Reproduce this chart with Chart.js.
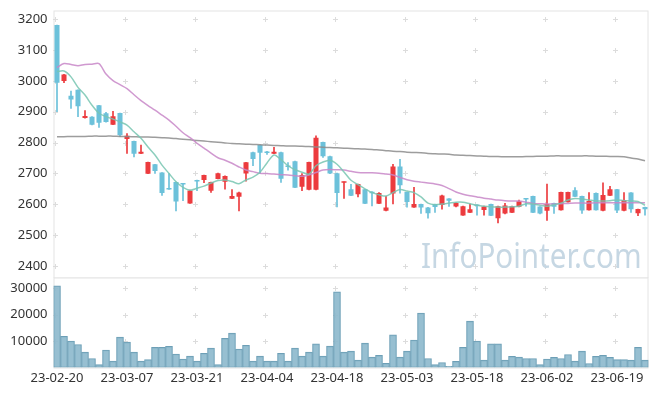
<!DOCTYPE html>
<html>
<head>
<meta charset="utf-8">
<script src="https://cdn.jsdelivr.net/npm/chart.js@4.4.0/dist/chart.umd.min.js"></script>
<style>
  body { margin: 0; background: #fff; }
  #wrap { position: relative; width: 657px; height: 396px; overflow: hidden; }
  #price { position: absolute; left: 0; top: 0; }
  #volume { position: absolute; left: 0; top: 270px; }
  #mark { position: absolute; left: 421px; top: 232px; font: 34px 'Noto Sans', sans-serif; color: #c6d7e3; white-space: nowrap; pointer-events: none; transform: scaleX(0.87); transform-origin: 0 0; }
</style>
</head>
<body>
<div id="wrap">
  <canvas id="price" width="657" height="278"></canvas>
  <canvas id="volume" width="657" height="126"></canvas>
  <div id="mark">InfoPointer.com</div>
</div>
<script>
// trading days
const dates = [
  '23-02-20','23-02-21','23-02-22','23-02-23','23-02-24','23-02-27','23-02-28',
  '23-03-02','23-03-03','23-03-06','23-03-07','23-03-08','23-03-09','23-03-10','23-03-13','23-03-14','23-03-15','23-03-16','23-03-17','23-03-20','23-03-21','23-03-22','23-03-23','23-03-24','23-03-27','23-03-28','23-03-29','23-03-30','23-03-31',
  '23-04-03','23-04-04','23-04-05','23-04-06','23-04-07','23-04-10','23-04-11','23-04-12','23-04-13','23-04-14','23-04-17','23-04-18','23-04-19','23-04-20','23-04-21','23-04-24','23-04-25','23-04-26','23-04-27','23-04-28',
  '23-05-02','23-05-03','23-05-04','23-05-08','23-05-09','23-05-10','23-05-11','23-05-12','23-05-15','23-05-16','23-05-17','23-05-18','23-05-19','23-05-22','23-05-23','23-05-24','23-05-25','23-05-26','23-05-30','23-05-31',
  '23-06-01','23-06-02','23-06-05','23-06-07','23-06-08','23-06-09','23-06-12','23-06-13','23-06-14','23-06-15','23-06-16','23-06-19','23-06-20','23-06-21','23-06-22','23-06-23'
];

const opens = [
  3181,3000,2952,2971,2880,2884,2921,2895,2858,2896,
  2812,2805,2764,2699,2730,2703,2650,2672,2666,2603,
  2676,2679,2644,2682,2673,2618,2625,2700,2769,2792,
  2768,2764,2769,2723,2740,2657,2647,2647,2802,2756,
  2701,2670,2649,2633,2649,2641,2602,2579,2635,2723,
  2640,2590,2601,2590,2601,2598,2619,2593,2564,2573,
  2598,2582,2601,2555,2570,2573,2592,2619,2627,2593,
  2579,2604,2581,2607,2646,2627,2581,2637,2579,2628,
  2649,2579,2638,2571,2591
];
const highs = [
  3181,3021,2967,2971,2904,2884,2921,2898,2901,2896,
  2829,2805,2792,2737,2730,2703,2700,2672,2666,2646,
  2679,2695,2672,2701,2692,2648,2640,2736,2769,2792,
  2772,2785,2769,2735,2740,2700,2737,2822,2802,2756,
  2701,2673,2665,2666,2649,2641,2638,2626,2730,2746,
  2640,2655,2601,2590,2601,2630,2619,2605,2594,2601,
  2598,2594,2601,2594,2603,2594,2614,2619,2627,2593,
  2666,2604,2640,2640,2654,2627,2638,2637,2670,2658,
  2649,2638,2638,2585,2591
];
const lows = [
  2900,2994,2911,2884,2879,2857,2849,2866,2858,2819,
  2765,2754,2764,2699,2700,2629,2648,2579,2612,2603,
  2644,2670,2639,2682,2649,2618,2579,2675,2725,2700,
  2762,2764,2671,2711,2654,2644,2647,2647,2752,2699,
  2592,2619,2628,2624,2602,2595,2602,2579,2601,2636,
  2591,2590,2571,2555,2574,2584,2593,2592,2564,2573,
  2565,2565,2563,2540,2569,2573,2592,2594,2573,2569,
  2548,2571,2581,2607,2625,2571,2581,2581,2579,2628,
  2573,2579,2574,2563,2565
];
const closes = [
  2994,3021,2940,2918,2886,2858,2864,2867,2885,2824,
  2822,2764,2770,2737,2708,2637,2648,2609,2664,2645,
  2674,2695,2672,2701,2692,2627,2638,2736,2747,2767,
  2766,2770,2683,2721,2654,2695,2737,2816,2756,2700,
  2637,2673,2628,2666,2602,2636,2637,2590,2723,2662,
  2608,2601,2590,2571,2591,2629,2612,2604,2594,2584,
  2595,2593,2563,2594,2596,2594,2610,2616,2573,2570,
  2601,2592,2640,2640,2625,2580,2611,2581,2630,2649,
  2580,2614,2584,2585,2584
];

// moving averages
const ma5 = [
  3030,3032,3013,2979,2954,2921,2895,2884,2876,2867,
  2857,2835,2814,2786,2760,2727,2700,2673,2655,2646,
  2652,2659,2669,2677,2679,2674,2667,2679,2688,2704,
  2734,2760,2745,2725,2712,2704,2698,2725,2737,2743,
  2730,2705,2678,2664,2650,2638,2631,2627,2638,2648,
  2643,2638,2624,2604,2599,2601,2604,2607,2607,2602,
  2597,2594,2592,2591,2591,2592,2594,2602,2601,2597,
  2594,2599,2604,2614,2619,2617,2614,2611,2611,2612,
  2614,2612,2611,2609,2597
];
const ma20 = [
  3043,3056,3053,3049,3053,3054,3056,3022,3001,2988,
  2975,2955,2936,2920,2905,2889,2873,2853,2832,2816,
  2798,2782,2766,2751,2743,2733,2721,2711,2706,2701,
  2700,2698,2696,2695,2693,2691,2695,2703,2711,2713,
  2712,2711,2707,2703,2702,2702,2701,2698,2695,2687,
  2680,2675,2672,2669,2666,2661,2651,2640,2633,2628,
  2624,2620,2617,2614,2612,2611,2611,2607,2603,2602,
  2601,2601,2602,2603,2604,2604,2604,2605,2605,2605,
  2605,2605,2605,2605,2605
];
const ma120 = [
  2819,2819,2820,2820,2820,2821,2821,2821,2821,2820,
  2820,2819,2818,2818,2817,2816,2815,2813,2811,2809,
  2807,2805,2803,2801,2799,2797,2796,2795,2794,2793,
  2792,2791,2790,2789,2789,2788,2787,2786,2785,2784,
  2783,2782,2781,2780,2779,2778,2776,2774,2772,2771,
  2769,2768,2767,2765,2764,2763,2762,2760,2759,2758,
  2757,2756,2755,2755,2754,2754,2754,2755,2755,2756,
  2756,2757,2757,2757,2757,2757,2757,2756,2756,2755,
  2755,2754,2750,2747,2741
];

const volumes = [
  30900,11800,10000,8700,5800,3400,1100,6600,2400,11500,
  9600,5800,2400,3000,7600,7600,8000,5100,3200,4300,
  2400,5400,7300,1100,11000,13000,7000,8400,2400,4300,
  2400,2400,5400,2400,7300,4300,5800,8900,4300,8100,
  28600,5800,6200,2800,9200,3900,4600,1600,12300,3900,
  6200,10400,20600,3400,1100,1900,400,2300,7600,17500,
  10000,2800,8900,8900,2800,4200,3900,3400,3400,1100,
  3200,3800,3400,4900,2400,6200,1500,4200,4600,3800,
  3000,3000,2800,7600,2800
];

// axis tick labels
const priceTicks = [2400, 2500, 2600, 2700, 2800, 2900, 3000, 3100, 3200];
const volumeTicks = [10000, 20000, 30000];

const UP = '#ec3b3e';
const DOWN = '#6cc1da';
const candleColors = opens.map((o, i) => closes[i] >= o ? UP : DOWN);
const bodies = opens.map((o, i) => [Math.min(o, closes[i]), Math.max(o, closes[i])]);
const wicks = lows.map((l, i) => [l, highs[i]]);

const FONT = { family: "'Noto Sans', sans-serif", size: 13 };

// small "+" marks where grid lines would cross, plus a thin frame
const crossGrid = {
  id: 'crossGrid',
  beforeDatasetsDraw(chart) {
    const { ctx, chartArea: a, scales: { x, y } } = chart;
    ctx.save();
    ctx.strokeStyle = '#e4e4e4';
    ctx.lineWidth = 1;
    ctx.strokeRect(a.left + 0.5, a.top + 0.5, a.right - a.left - 1, a.bottom - a.top);
    ctx.strokeStyle = '#dcdcdc';
    y.ticks.forEach(t => {
      const py = Math.round(y.getPixelForValue(t.value)) + 0.5;
      for (let i = 0; i < dates.length; i += 10) {
        const px = Math.round(x.getPixelForValue(i)) - 1.5;
        ctx.beginPath();
        ctx.moveTo(px - 2.5, py); ctx.lineTo(px + 2.5, py);
        ctx.moveTo(px, py - 2.5); ctx.lineTo(px, py + 2.5);
        ctx.stroke();
      }
    });
    ctx.restore();
  }
};

function yAxis(min, max, values) {
  return {
    position: 'left',
    min: min,
    max: max,
    grid: { display: false, drawTicks: false },
    border: { display: false },
    ticks: { font: FONT, color: '#333', padding: 6, callback: v => String(v) },
    afterBuildTicks(scale) { scale.ticks = values.map(v => ({ value: v })); },
    afterFit(scale) {
      scale.width = 53.5;
      scale.paddingTop = 0;
      scale.paddingBottom = 0;
    }
  };
}

new Chart(document.getElementById('price'), {
  data: {
    labels: dates,
    datasets: [
      { type: 'line', label: 'MA5', data: ma5, borderColor: 'rgba(120,198,178,0.85)', borderWidth: 1.5, pointRadius: 0, tension: 0.3, order: 0 },
      { type: 'line', label: 'MA20', data: ma20, borderColor: 'rgba(200,135,200,0.85)', borderWidth: 1.5, pointRadius: 0, tension: 0.3, order: 0 },
      { type: 'line', label: 'MA120', data: ma120, borderColor: 'rgba(140,140,140,0.85)', borderWidth: 1.5, pointRadius: 0, tension: 0.3, order: 0 },
      { type: 'bar', label: 'body', data: bodies, backgroundColor: candleColors, barPercentage: 0.72, categoryPercentage: 1, minBarLength: 1.5, grouped: false, order: 1 },
      { type: 'bar', label: 'wick', data: wicks, backgroundColor: candleColors, barThickness: 1, grouped: false, order: 2 }
    ]
  },
  options: {
    responsive: false,
    animation: false,
    layout: { padding: { top: 10.5, right: 8.5, bottom: 0.5, left: 0 } },
    plugins: { legend: { display: false }, tooltip: { enabled: false } },
    scales: {
      x: { display: false, offset: true },
      y: yAxis(2363, 3228, priceTicks)
    }
  },
  plugins: [crossGrid]
});

new Chart(document.getElementById('volume'), {
  type: 'bar',
  data: {
    labels: dates,
    datasets: [{
      label: 'volume', data: volumes,
      backgroundColor: 'rgba(140,184,204,0.9)', borderColor: '#6d9fb6', borderWidth: 1, borderSkipped: false,
      barPercentage: 1, categoryPercentage: 1
    }]
  },
  options: {
    responsive: false,
    animation: false,
    layout: { padding: { top: 7.5, right: 8.5, bottom: 0, left: 0 } },
    plugins: { legend: { display: false }, tooltip: { enabled: false } },
    scales: {
      x: {
        offset: true,
        grid: { display: false, drawTicks: false },
        border: { display: false },
        ticks: {
          font: FONT, color: '#333', padding: 3, autoSkip: false, maxRotation: 0,
          callback: (v, i) => i % 10 === 0 ? dates[i] : ''
        },
        afterFit(scale) { scale.height = 28.5; }
      },
      y: yAxis(0, 34000, volumeTicks)
    }
  },
  plugins: [crossGrid]
});
</script>
</body>
</html>
